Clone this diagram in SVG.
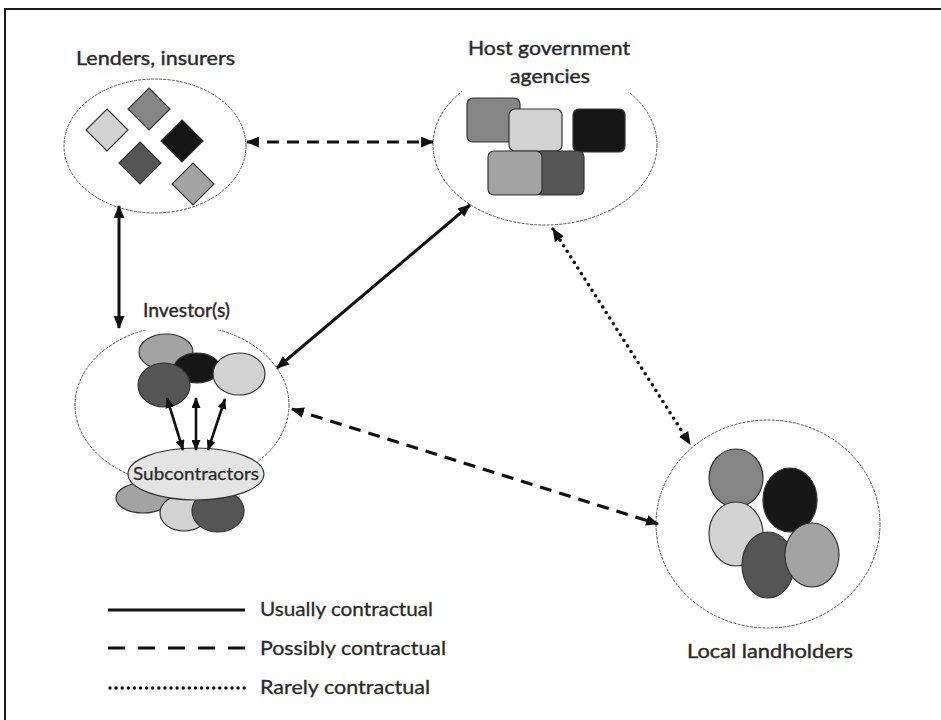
<svg xmlns="http://www.w3.org/2000/svg" width="941" height="720" viewBox="0 0 941 720">
<style>
.bg{fill:#ffffff}
.frame{stroke:#1a1a1a;stroke-width:2;fill:none}
.group{fill:none;stroke:#555;stroke-width:1;stroke-dasharray:3 1.2}
.shape{stroke:#333;stroke-width:1.2}
.c1{fill:#d2d2d2}.c2{fill:#858585}.c3{fill:#161616}.c4{fill:#555555}.c5{fill:#a3a3a3}.c6{fill:#e4e4e4}
.title{font-family:Lato,"Open Sans","Liberation Sans",sans-serif;font-size:19px;fill:#2a2a2a;stroke:#2a2a2a;stroke-width:0.4;text-anchor:middle}
.leg{font-family:Lato,"Open Sans","Liberation Sans",sans-serif;font-size:19px;fill:#2a2a2a;stroke:#2a2a2a;stroke-width:0.3}
.sub{font-family:Lato,"Liberation Sans",sans-serif;font-size:16.5px;fill:#2a2a2a;stroke:#2a2a2a;stroke-width:0.25;text-anchor:middle}
.solid{stroke:#111;stroke-width:3;fill:none}
.dash{stroke:#111;stroke-width:3.2;fill:none;stroke-dasharray:12 8}
.dot{stroke:#111;stroke-width:3.6;fill:none;stroke-dasharray:0 6.6;stroke-linecap:round}
.thin{stroke:#111;stroke-width:2.6;fill:none}
</style>
<defs>
<marker id="ah" viewBox="0 0 12 10" refX="11" refY="5" markerWidth="13" markerHeight="11" markerUnits="userSpaceOnUse" orient="auto-start-reverse">
<path d="M0,0 L12,5 L0,10 z" fill="#111"/>
</marker>
<marker id="ahs" viewBox="0 0 12 10" refX="11" refY="5" markerWidth="11" markerHeight="9" markerUnits="userSpaceOnUse" orient="auto-start-reverse">
<path d="M0,0 L12,5 L0,10 z" fill="#111"/>
</marker>
</defs>
<rect class="bg" x="0" y="0" width="941" height="720"/>
<g id="frame">
<line class="frame" x1="5" y1="9" x2="941" y2="9"/>
<line class="frame" x1="5" y1="8" x2="5" y2="720"/>
</g>

<g id="lenders">
<ellipse class="group" cx="155" cy="146" rx="91" ry="67"/>
<polygon class="shape c1" points="107,109 128,130 107,151 86,130"/>
<polygon class="shape c2" points="149,88 170,109 149,130 128,109"/>
<polygon class="shape c3" points="182,120 203,141 182,162 161,141"/>
<polygon class="shape c4" points="140,142 161,163 140,184 119,163"/>
<polygon class="shape c5" points="193,163 214,184 193,205 172,184"/>
<text class="title" x="155.5" y="65" textLength="159" lengthAdjust="spacingAndGlyphs">Lenders, insurers</text>
</g>

<g id="host">
<ellipse class="group" cx="545" cy="145" rx="112" ry="80"/>
<rect x="462" y="30" width="172" height="62" fill="#fff"/>
<rect class="shape c2" x="467" y="98" width="53" height="44" rx="6"/>
<rect class="shape c1" x="509" y="109" width="53" height="42" rx="6"/>
<rect class="shape c3" x="573" y="109" width="52" height="43" rx="6"/>
<rect class="shape c4" x="536" y="151" width="48" height="44" rx="6"/>
<rect class="shape c5" x="488" y="151" width="54" height="44" rx="6"/>
<text class="title" x="549" y="55" textLength="162" lengthAdjust="spacingAndGlyphs">Host government</text>
<text class="title" x="550" y="83" textLength="80" lengthAdjust="spacingAndGlyphs">agencies</text>
</g>

<g id="investor">
<ellipse class="group" cx="182" cy="405" rx="107" ry="80"/>
<rect x="136" y="296" width="100" height="34" fill="#fff"/>
<text class="title" x="186.5" y="317" textLength="87" lengthAdjust="spacingAndGlyphs">Investor(s)</text>
<ellipse class="shape c5" cx="166" cy="352" rx="27" ry="18"/>
<ellipse class="shape c3" cx="197" cy="368" rx="23" ry="15"/>
<ellipse class="shape c4" cx="164" cy="385" rx="26" ry="22"/>
<ellipse class="shape c1" cx="239" cy="374" rx="26" ry="21"/>
</g>

<g id="subcontractors">
<ellipse class="shape c5" cx="143" cy="498" rx="27" ry="15"/>
<ellipse class="shape c1" cx="184" cy="513" rx="24" ry="18"/>
<ellipse class="shape c4" cx="218" cy="511" rx="26" ry="21"/>
<ellipse class="shape c6" cx="196" cy="474" rx="68" ry="26"/>
<text class="sub" x="196" y="480" textLength="126" lengthAdjust="spacingAndGlyphs">Subcontractors</text>
</g>

<g id="landholders">
<ellipse class="group" cx="768" cy="524" rx="112" ry="104"/>
<ellipse class="shape c2" cx="736" cy="478" rx="27" ry="29"/>
<ellipse class="shape c3" cx="790" cy="500" rx="27" ry="32"/>
<ellipse class="shape c1" cx="736" cy="534" rx="27" ry="32"/>
<ellipse class="shape c4" cx="768" cy="565" rx="26" ry="33"/>
<ellipse class="shape c5" cx="812" cy="555" rx="27" ry="32"/>
<text class="title" x="770" y="658" textLength="166" lengthAdjust="spacingAndGlyphs">Local landholders</text>
</g>

<g id="connectors">
<line class="dash" x1="247" y1="142" x2="433" y2="142" marker-start="url(#ah)" marker-end="url(#ah)"/>
<line class="solid" x1="119" y1="206" x2="119" y2="328" marker-start="url(#ah)" marker-end="url(#ah)"/>
<line class="solid" x1="470" y1="205" x2="277" y2="368" marker-start="url(#ah)" marker-end="url(#ah)"/>
<line class="dash" x1="292" y1="409" x2="658" y2="524" marker-start="url(#ah)" marker-end="url(#ah)"/>
<line class="dot" x1="553" y1="229" x2="690" y2="444" marker-start="url(#ah)" marker-end="url(#ah)"/>
<line class="thin" x1="183" y1="450" x2="167" y2="398" marker-start="url(#ahs)" marker-end="url(#ahs)"/>
<line class="thin" x1="196" y1="450" x2="196" y2="398" marker-start="url(#ahs)" marker-end="url(#ahs)"/>
<line class="thin" x1="208" y1="450" x2="225" y2="399" marker-start="url(#ahs)" marker-end="url(#ahs)"/>
</g>

<g id="legend">
<line class="solid" x1="108" y1="610" x2="245" y2="610"/>
<line class="solid" x1="108" y1="648" x2="245" y2="648" style="stroke-dasharray:17 13"/>
<line class="dot" x1="110" y1="688" x2="245" y2="688" style="stroke-width:3.4;stroke-dasharray:0 6.1"/>
<text class="leg" x="260" y="616" textLength="173" lengthAdjust="spacingAndGlyphs">Usually contractual</text>
<text class="leg" x="260" y="655" textLength="186" lengthAdjust="spacingAndGlyphs">Possibly contractual</text>
<text class="leg" x="260" y="694" textLength="170" lengthAdjust="spacingAndGlyphs">Rarely contractual</text>
</g>
</svg>
